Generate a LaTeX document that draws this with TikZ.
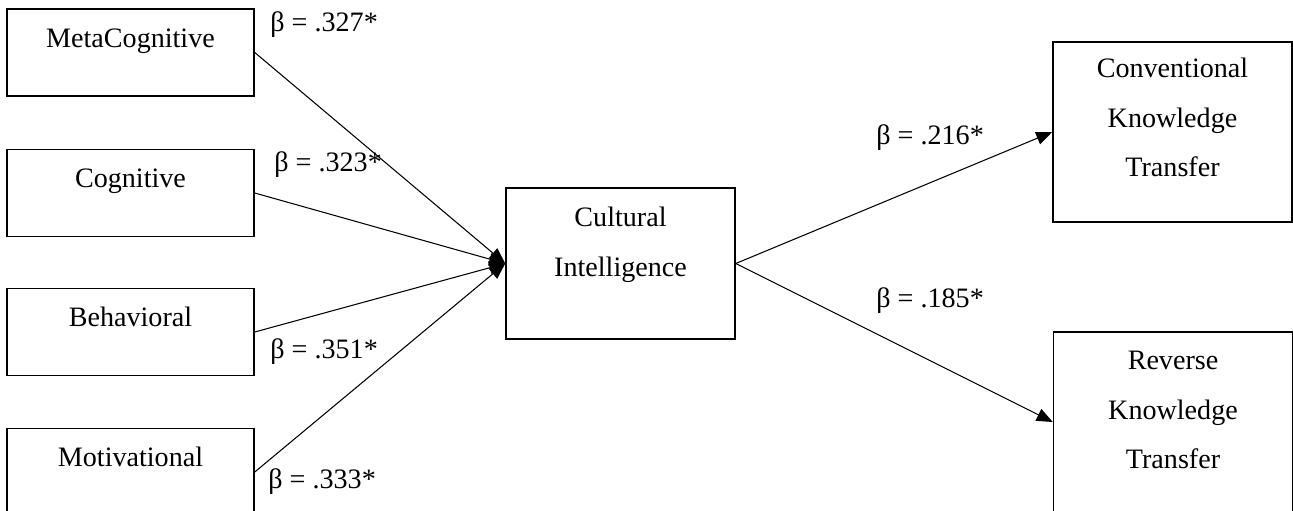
\documentclass[tikz,border=0pt]{standalone}
\usepackage{fontspec}
\setmainfont{Liberation Serif}
\usetikzlibrary{arrows.meta}

\begin{document}
\begin{tikzpicture}[x=0.02cm,y=-0.02cm,>={Triangle[length=0.32cm,width=0.26cm]},
  font=\fontsize{16}{28.45}\selectfont,
  factor/.style={draw,line width=0.9pt,inner sep=0pt,minimum width=4.94cm,minimum height=1.74cm,text height=0.35cm,text depth=0.56cm},
  construct/.style={draw,line width=0.9pt,inner sep=0pt,align=center},
  beta/.style={anchor=west,inner sep=0pt},
  link/.style={->,line width=0.6pt}]
\useasboundingbox (0,0) rectangle (1293,510);
\path
(130.5,52.5)  node[factor] (meta) {MetaCognitive}
(130.5,193)   node[factor] (cog)  {Cognitive}
(130.5,332)   node[factor] (beh)  {Behavioral}
(130.5,472)   node[factor] (mot)  {Motivational}

(620.5,263.5) node[construct, minimum width=4.58cm, minimum height=3.02cm, text height=1.5cm, text depth=1.0cm] (cq) {Cultural\\ Intelligence}
(1172.5,132)  node[construct, minimum width=4.78cm, minimum height=3.6cm, text height=2.3cm, text depth=0.5cm] (conv) {Conventional\\ Knowledge\\ Transfer}
(1173,422)    node[construct, minimum width=4.78cm, minimum height=3.6cm, text height=2.38cm, text depth=0.5cm] (rev) {Reverse\\ Knowledge\\ Transfer}

(270,25)  node[beta] (b1) {β = .327*}
(274,165) node[beta] (b2) {β = .323*}
(270,352) node[beta] (b3) {β = .351*}
(268,482) node[beta] (b4) {β = .333*}
(876,138) node[beta] (b5) {β = .216*}
(876,301) node[beta] (b6) {β = .185*};

\draw[link] (meta.east)--(cq.west);
\draw[link] (cog.east)--(cq.west);
\draw[link] (beh.east)--(cq.west);
\draw[link] (mot.east)--(cq.west);

\draw[link] (cq.east)--(conv.west);
\draw[link] (cq.east)--(rev.west);
\end{tikzpicture}
\end{document}
